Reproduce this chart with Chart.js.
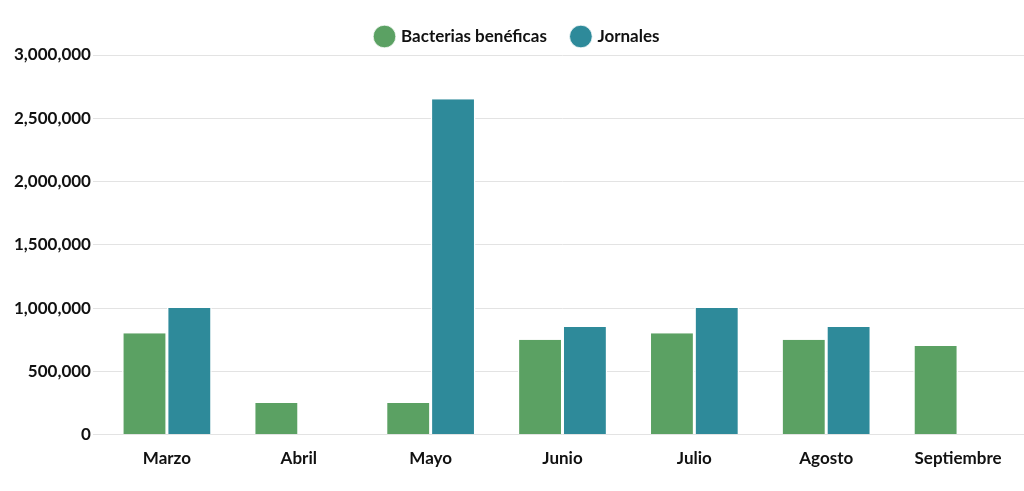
<!DOCTYPE html>
<html><head><meta charset="utf-8">
<script src="https://cdn.jsdelivr.net/npm/chart.js@4"></script>
<style>html,body{margin:0;padding:0;background:#fff}#w{width:1024px;height:491px}</style>
</head><body><div id="w"><canvas id="c"></canvas></div>
<script>
const categories=["Marzo","Abril","Mayo","Junio","Julio","Agosto","Septiembre"];
const bacterias=[800000,250000,250000,750000,800000,750000,700000];
const jornales=[1000000,0,2650000,850000,1000000,850000,0];
Chart.defaults.font.family="Lato, 'Open Sans', sans-serif";
Chart.defaults.font.weight="bold";
Chart.defaults.color="#111";
new Chart(document.getElementById('c'),{type:'bar',
data:{labels:categories,datasets:[
{label:"Bacterias benéficas",data:bacterias,backgroundColor:"#5BA163",borderColor:"#fff",borderWidth:{left:1.5,right:1.5}},
{label:"Jornales",data:jornales,backgroundColor:"#2E8A9A",borderColor:"#fff",borderWidth:{left:1.5,right:1.5}}]},
options:{responsive:true,maintainAspectRatio:false,animation:false,
layout:{padding:{left:12,right:0,top:2,bottom:16}},
categoryPercentage:0.68,barPercentage:1,
plugins:{legend:{labels:{usePointStyle:true,pointStyle:'circle',boxWidth:16,boxHeight:16,padding:26,font:{size:17,weight:'bold'}}},tooltip:{enabled:false}},
scales:{x:{grid:{display:false},border:{display:false},ticks:{padding:6,font:{size:17,weight:'bold'}}},
y:{min:0,max:3000000,ticks:{stepSize:500000,padding:2,font:{size:17,weight:'bold'},callback:v=>v.toLocaleString('en-US')},grid:{color:"#e3e3e3"},border:{display:false}}}}});
</script></body></html>
